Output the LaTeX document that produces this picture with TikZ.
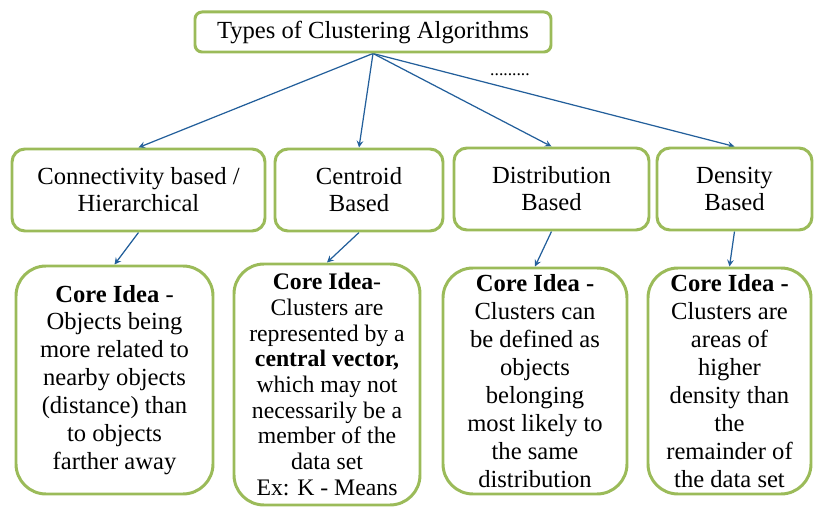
\documentclass[tikz,border=0pt]{standalone}
\usepackage{fontspec}
\setmainfont{Liberation Serif}
\usepackage{tikz}
\usetikzlibrary{arrows,positioning}
\pgfdeclarelayer{edgelayer}
\pgfdeclarelayer{nodelayer}
\pgfsetlayers{edgelayer,nodelayer,main}
\definecolor{lgreen}{RGB}{155,187,89}
\definecolor{dblue}{RGB}{35,95,155}
\tikzstyle{none}=[inner sep=0pt]
\tikzstyle{title}=[rectangle,rounded corners=0.14cm,draw=lgreen,line width=1.7pt,fill=white,minimum width=7.12cm,minimum height=0.8cm,font=\fontsize{14}{15}\selectfont]
\tikzstyle{kind}=[rectangle,rounded corners=0.26cm,draw=lgreen,line width=1.7pt,fill=white,minimum height=1.64cm,align=center,font=\fontsize{14}{15.4}\selectfont]
\tikzstyle{idea}=[rectangle,rounded corners=0.6cm,draw=lgreen,line width=1.7pt,fill=white,align=center,font=\fontsize{14}{15.9}\selectfont]
\tikzstyle{inarrow}=[->, >=stealth, draw=dblue, line width=0.7pt]

\begin{document}
\begin{tikzpicture}
	\useasboundingbox (0,0) rectangle (16.56,10.16);
	\begin{pgfonlayer}{nodelayer}
		\node [style=title] (Types) at (7.46,9.52) {Types of Clustering Algorithms};
		\node [style=none, font=\normalsize] (more) at (10.2,8.66) {.........};
		\node [style=kind, minimum width=5.06cm] (Conn) at (2.77,6.36) {Connectivity based /\\Hierarchical};
		\node [style=kind, minimum width=3.36cm] (Cent) at (7.18,6.36) {Centroid\\Based};
		\node [style=kind, minimum width=3.90cm] (Dist) at (11.03,6.38) {Distribution\\Based};
		\node [style=kind, minimum width=3.10cm] (Dens) at (14.69,6.38) {Density\\Based};
		\node [style=idea, minimum width=3.94cm, minimum height=4.56cm] (ConnIdea) at (2.29,2.56) {\textbf{Core Idea} -\\Objects being\\more related to\\nearby objects\\(distance) than\\to objects\\farther away};
		\node [style=idea, minimum width=3.72cm, minimum height=4.82cm, font=\fontsize{13.5}{14.6}\selectfont] (CentIdea) at (6.54,2.47) {\textbf{Core Idea}-\\Clusters are\\represented by a\\\textbf{central vector,}\\which may not\\necessarily be a\\member of the\\data set\\Ex: K - Means};
		\node [style=idea, minimum width=3.68cm, minimum height=4.52cm] (DistIdea) at (10.70,2.54) {\textbf{Core Idea -}\\Clusters can\\be defined as\\objects\\belonging\\most likely to\\the same\\distribution};
		\node [style=idea, minimum width=3.26cm, minimum height=4.52cm] (DensIdea) at (14.59,2.54) {\textbf{Core Idea -}\\Clusters are\\areas of\\higher\\density than\\the\\remainder of\\the data set};
	\end{pgfonlayer}
	\begin{pgfonlayer}{edgelayer}
		\draw [style=inarrow] (Types.south) to (Conn.north);
		\draw [style=inarrow] (Types.south) to (Cent.north);
		\draw [style=inarrow] (Types.south) to (Dist.north);
		\draw [style=inarrow] (Types.south) to (Dens.north);
		\draw [style=inarrow] (Conn.south) to (ConnIdea.north);
		\draw [style=inarrow] (Cent.south) to (CentIdea.north);
		\draw [style=inarrow] (Dist.south) to (DistIdea.north);
		\draw [style=inarrow] (Dens.south) to (DensIdea.north);
	\end{pgfonlayer}
\end{tikzpicture}
\end{document}
